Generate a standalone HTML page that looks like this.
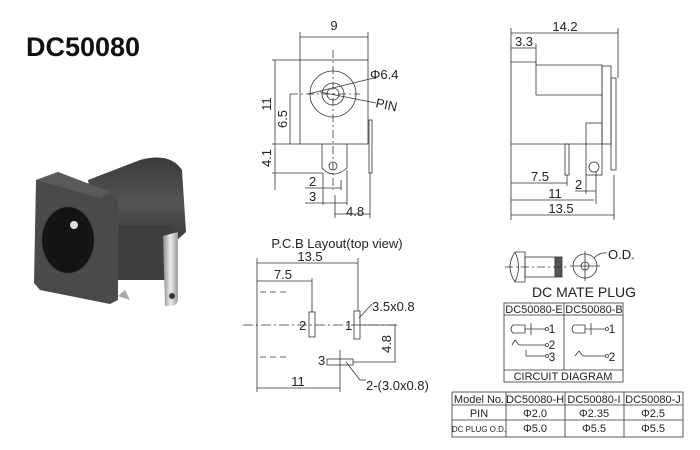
<!DOCTYPE html>
<html><head><meta charset="utf-8"><style>
body{margin:0;background:#fff}
svg{display:block}
text{font-family:"Liberation Sans",Arial,sans-serif;fill:#222}
</style></head><body>
<svg width="700" height="450" viewBox="0 0 700 450" xmlns="http://www.w3.org/2000/svg">
<defs>
<linearGradient id="pin" x1="0" x2="1"><stop offset="0" stop-color="#888"/><stop offset=".5" stop-color="#eee"/><stop offset="1" stop-color="#999"/></linearGradient>
<linearGradient id="cyl" x1="0" y1="0" x2="0" y2="1"><stop offset="0" stop-color="#3a3a3a"/><stop offset=".5" stop-color="#555"/><stop offset="1" stop-color="#333"/></linearGradient>
</defs>
<text x="26" y="56" font-size="27" font-weight="bold" style="fill:#111">DC50080</text>

<!-- photo -->
<g>
<path d="M88 180 L140 160 Q170 152 182 170 L186 232 L168 248 L100 250 Z" fill="url(#cyl)"/>
<rect x="118" y="225" width="55" height="55" fill="#3e3e3e"/>
<path d="M163 236 L178 232 L178 298 Q178 306 170 306 L165 306 Z" fill="url(#pin)"/>
<circle cx="172" cy="296" r="3" fill="#333"/>
<path d="M118 296 L125 290 L130 300 Z" fill="#aaa"/>
<path d="M36 180 L58 172 L110 192 L118 200 L118 300 L110 304 L40 290 L34 283 Z" fill="#4a4a4a"/>
<path d="M36 180 L58 172 L110 192 L100 198 Z" fill="#5a5a5a"/>
<ellipse cx="68" cy="240" rx="26" ry="33" fill="#141414"/>
<circle cx="74" cy="225" r="4" fill="#ddd"/>
</g>

<g stroke="#333" stroke-width="0.8" fill="none">
<!-- front view -->
<rect x="300" y="60" width="68" height="84"/>
<circle cx="333" cy="94" r="23"/>
<circle cx="333" cy="94" r="11"/>
<circle cx="333" cy="94" r="6"/>
<path d="M322 144 V168 Q333 180 347 168 V144"/>
<circle cx="333" cy="166" r="4"/>
<rect x="369" y="120" width="3" height="53"/>
<line x1="333" y1="50" x2="333" y2="190" stroke-dasharray="8 3 2 3"/>
<line x1="290" y1="94" x2="360" y2="94" stroke-dasharray="8 3 2 3"/>
<line x1="300" y1="37" x2="368" y2="37"/><line x1="300" y1="32" x2="300" y2="60"/><line x1="368" y1="32" x2="368" y2="60"/>
<line x1="275" y1="60" x2="275" y2="190"/><line x1="272" y1="60" x2="300" y2="60"/><line x1="272" y1="144" x2="300" y2="144"/><line x1="272" y1="173" x2="323" y2="173"/>
<line x1="290" y1="94" x2="290" y2="144"/>
<line x1="308" y1="94" x2="378" y2="77"/><line x1="320" y1="92" x2="376" y2="103"/>
<line x1="305" y1="188" x2="341" y2="188"/><line x1="305" y1="203" x2="347" y2="203"/>
<line x1="323" y1="173" x2="323" y2="205"/><line x1="341" y1="180" x2="341" y2="190"/><line x1="347" y1="170" x2="347" y2="205"/>
<line x1="335" y1="195" x2="335" y2="218"/><line x1="370" y1="173" x2="370" y2="218"/>
<line x1="335" y1="214" x2="370" y2="214"/>

<!-- side view -->
<path d="M511 62 H536 V65 H602 V144 H511 Z"/>
<line x1="536" y1="65" x2="536" y2="95"/><line x1="536" y1="95" x2="602" y2="95"/>
<rect x="602" y="66" width="9" height="78"/>
<rect x="611" y="78" width="5" height="92"/>
<rect x="586" y="123" width="16" height="52"/>
<circle cx="594" cy="167" r="5"/>
<rect x="565" y="144" width="4" height="31"/>
<line x1="511" y1="33" x2="618" y2="33"/><line x1="511" y1="28" x2="511" y2="62"/><line x1="618" y1="28" x2="618" y2="78"/>
<line x1="511" y1="48" x2="536" y2="48"/><line x1="536" y1="44" x2="536" y2="65"/>
<line x1="511" y1="144" x2="511" y2="220"/>
<line x1="567" y1="175" x2="567" y2="186"/><line x1="511" y1="183" x2="567" y2="183"/>
<line x1="586" y1="175" x2="586" y2="194"/><line x1="596" y1="172" x2="596" y2="204"/>
<line x1="575" y1="191" x2="596" y2="191"/>
<line x1="511" y1="200" x2="594" y2="200"/>
<line x1="614" y1="175" x2="614" y2="220"/>
<line x1="511" y1="215" x2="614" y2="215"/>

<!-- pcb -->
<line x1="257" y1="258" x2="257" y2="392"/>
<line x1="358" y1="258" x2="358" y2="311"/>
<line x1="312" y1="278" x2="312" y2="312"/>
<line x1="257" y1="263" x2="358" y2="263"/>
<line x1="257" y1="281" x2="312" y2="281"/>
<line x1="260" y1="292" x2="290" y2="292" stroke-dasharray="6 4"/>
<line x1="260" y1="357" x2="290" y2="357" stroke-dasharray="6 4"/>
<line x1="243" y1="325" x2="400" y2="325" stroke-dasharray="10 3 2 3"/>
<rect x="309" y="312" width="6" height="25"/>
<rect x="354" y="311" width="6" height="28"/>
<rect x="327" y="359" width="26" height="6"/>
<line x1="340" y1="350" x2="340" y2="392"/>
<line x1="353" y1="362" x2="396" y2="362"/>
<line x1="360" y1="325" x2="396" y2="325"/>
<line x1="395" y1="325" x2="395" y2="362"/>
<line x1="257" y1="388" x2="340" y2="388"/>
<path d="M359 318 L372 304"/><path d="M346 362 L360 380 H366"/>

<!-- mate plug -->
<path d="M515 252 H525 V282 H515"/>
<path d="M515 252 Q505 267 515 282 M515 252 Q522 267 515 282"/>
<rect x="525" y="257" width="30" height="20"/>
<rect x="555" y="257" width="7" height="20" fill="#555"/>
<line x1="505" y1="267" x2="568" y2="267" stroke-dasharray="8 3 2 3"/>
<circle cx="585" cy="266" r="12"/><circle cx="585" cy="266" r="4"/>
<line x1="570" y1="266" x2="600" y2="266"/><line x1="585" y1="251" x2="585" y2="281"/>
<path d="M594 258 Q600 252 607 253"/>

<!-- circuit box -->
<rect x="504" y="303" width="119" height="79"/>
<line x1="504" y1="315" x2="623" y2="315"/><line x1="504" y1="370" x2="623" y2="370"/>
<line x1="564" y1="303" x2="564" y2="370"/>
<path d="M525 325 H513 Q509 329 513 333 H525 Z"/><line x1="531" y1="323" x2="531" y2="335"/><line x1="525" y1="329" x2="545" y2="329"/><circle cx="547" cy="329" r="1.5"/>
<path d="M512 345 L515 340 L519 345 H545"/><circle cx="547" cy="345" r="1.5"/>
<path d="M526 350 V356 H545"/><circle cx="547" cy="356" r="1.5"/>
<path d="M585 325 H574 Q570 329 574 333 H585 Z"/><line x1="591" y1="323" x2="591" y2="335"/><line x1="585" y1="329" x2="605" y2="329"/><circle cx="607" cy="329" r="1.5"/>
<path d="M575 356 L579 351 L583 356 H605"/><circle cx="607" cy="356" r="1.5"/>

<!-- table -->
<rect x="452" y="392" width="231" height="45"/>
<line x1="452" y1="405" x2="683" y2="405"/><line x1="452" y1="420" x2="683" y2="420"/>
<line x1="506" y1="392" x2="506" y2="437"/><line x1="565" y1="392" x2="565" y2="437"/><line x1="624" y1="392" x2="624" y2="437"/>
</g>

<g font-size="13">
<text x="334" y="30" text-anchor="middle">9</text>
<text x="370" y="79">Φ6.4</text>
<text x="375" y="107" transform="rotate(12 375 107)">PIN</text>
<text transform="translate(271,104) rotate(-90)" text-anchor="middle">11</text>
<text transform="translate(287,119) rotate(-90)" text-anchor="middle">6.5</text>
<text transform="translate(271,158) rotate(-90)" text-anchor="middle">4.1</text>
<text x="309" y="186">2</text><text x="309" y="201">3</text>
<text x="346" y="216">4.8</text>
<text x="565" y="31" text-anchor="middle">14.2</text>
<text x="524" y="46" text-anchor="middle">3.3</text>
<text x="540" y="181" text-anchor="middle">7.5</text>
<text x="575" y="189">2</text>
<text x="555" y="198" text-anchor="middle">11</text>
<text x="561" y="213" text-anchor="middle">13.5</text>
<text x="337" y="248" text-anchor="middle">P.C.B Layout(top  view)</text>
<text x="310" y="261" text-anchor="middle">13.5</text>
<text x="283" y="279" text-anchor="middle">7.5</text>
<text x="299" y="330">2</text><text x="345" y="330">1</text><text x="318" y="365">3</text>
<text x="372" y="311">3.5x0.8</text>
<text transform="translate(391,344) rotate(-90)" text-anchor="middle">4.8</text>
<text x="298" y="386" text-anchor="middle">11</text>
<text x="366" y="390">2-(3.0x0.8)</text>
<text x="608" y="259">O.D.</text>
<text x="584" y="297" text-anchor="middle" font-size="14">DC MATE PLUG</text>
</g>
<g font-size="11" text-anchor="middle">
<text x="534" y="313">DC50080-E</text><text x="594" y="313">DC50080-B</text>
<text x="552" y="333" font-size="12">1</text><text x="552" y="349" font-size="12">2</text><text x="552" y="361" font-size="12">3</text>
<text x="612" y="333" font-size="12">1</text><text x="612" y="361" font-size="12">2</text>
<text x="563" y="380">CIRCUIT DIAGRAM</text>
<text x="479" y="403">Model No.</text><text x="535" y="403">DC50080-H</text><text x="594" y="403">DC50080-I</text><text x="653" y="403">DC50080-J</text>
<text x="479" y="417">PIN</text><text x="535" y="417">Φ2.0</text><text x="594" y="417">Φ2.35</text><text x="653" y="417">Φ2.5</text>
<text x="479" y="432" font-size="8">DC PLUG O.D.</text><text x="535" y="432">Φ5.0</text><text x="594" y="432">Φ5.5</text><text x="653" y="432">Φ5.5</text>
</g>
</svg>
</body></html>
